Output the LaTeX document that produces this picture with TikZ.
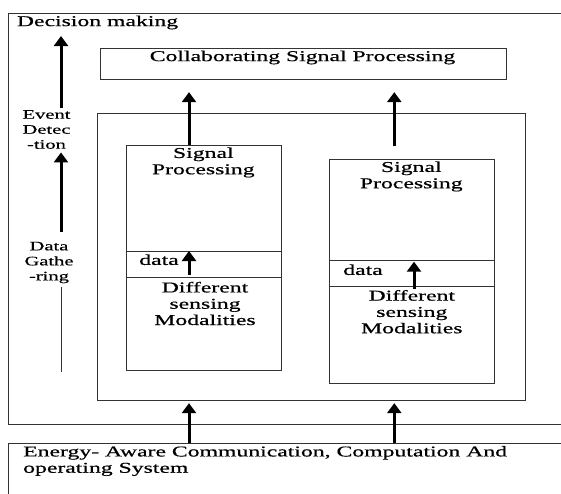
\documentclass[tikz,border=0pt]{standalone}
\usepackage{fontspec}
\setmainfont{Liberation Serif}[FakeStretch=1.58,FakeBold=0.6]
\usetikzlibrary{arrows.meta,positioning}

\begin{document}
\begin{tikzpicture}[x=1pt,y=-1pt,
  frame/.style={draw=black!80,line width=0.9pt},
  box/.style={frame,inner sep=0pt},
  lbl/.style={inner sep=0pt,align=center,font=\fontsize{15}{16.3}\selectfont},
  side/.style={inner sep=0pt,align=center,font=\fontsize{13}{15}\selectfont},
  up/.style={line width=3pt,-{Triangle[width=14pt,length=10pt]}}]
  \useasboundingbox (0,0) rectangle (561,494);
  \coordinate (colL) at (189,0);
  \coordinate (colR) at (394.3,0);
  \coordinate (colD) at (414,0);
  \coordinate (osTop) at (0,443);
  % outer frames
  \draw[frame] (561,13) -- (8,13) -- (8,424) -- (561,424);
  \draw[frame] (561,443) -- (8,443) -- (8,494);
  \node[lbl,anchor=west] (dec) at (16.7,22.5) {Decision making};
  \node[lbl,align=left,anchor=west] (os) at (23,461) {Energy- Aware Communication, Computation And\\operating System};
  % boxes
  \node[box,minimum width=406pt,minimum height=31pt] (collab) at (303,63.5) {};
  \node[lbl] (collabtxt) at (302.5,57.5) {Collaborating Signal Processing};
  \node[box,minimum width=427.3pt,minimum height=287pt] (mid) at (311.3,256.5) {};
  \node[box,minimum width=154.3pt,minimum height=225pt] (sp1) at (203.8,257.5) {};
  \node[box,minimum width=165.5pt,minimum height=224.3pt] (sp2) at (411.8,271.2) {};
  \coordinate (b1) at (0,251);
  \coordinate (b2) at (0,277.7);
  \coordinate (b3) at (0,260);
  \coordinate (b4) at (0,286.7);
  \draw[frame] (sp1.west |- b1) -- (sp1.east |- b1);
  \draw[frame] (sp1.west |- b2) -- (sp1.east |- b2);
  \draw[frame] (sp2.west |- b3) -- (sp2.east |- b3);
  \draw[frame] (sp2.west |- b4) -- (sp2.east |- b4);
  \node[lbl] (sp1txt) at (203.3,162.5) {Signal\\Processing};
  \node[lbl] (data1) at (159,259.8) {data};
  \node[lbl] (mod1) at (205,303.5) {Different\\sensing\\Modalities};
  \node[lbl] (sp2txt) at (411.3,176.5) {Signal\\Processing};
  \node[lbl] (data2) at (363,269.8) {data};
  \node[lbl] (mod2) at (411.8,311.7) {Different\\sensing\\Modalities};
  % left column
  \node[side] (evt) at (46.5,129.5) {Event\\Detec\\-tion};
  \node[side] (gat) at (49,262.5) {Data\\Gathe\\-ring};
  \coordinate (gatend) at (61,372);
  \draw[up,shorten <=1.5pt,shorten >=6.5pt] ([xshift=14.5pt]evt.north) -- ([xshift=14.5pt]evt.north |- dec.south);
  \draw[up,shorten <=9.5pt,shorten >=3.4pt] ([xshift=12pt]gat.north) -- ([xshift=14.5pt]evt.south);
  \draw[frame] ([xshift=12pt,yshift=-4pt]gat.south) -- (gatend);
  % arrows
  \draw[up,shorten >=12.7pt] (sp1.north -| colL) -- (collab.south -| colL);
  \draw[up,shorten <=12.3pt,shorten >=12.7pt] (sp2.north -| colR) -- (collab.south -| colR);
  \draw[up,shorten <=2.7pt] (b2 -| colL) -- (b1 -| colL);
  \draw[up,shorten <=-2.3pt,shorten >=1.7pt] (b4 -| colD) -- (b3 -| colD);
  \draw[up,shorten >=2.7pt] (osTop -| colL) -- (mid.south -| colL);
  \draw[up,shorten >=2.7pt] (osTop -| colR) -- (mid.south -| colR);
\end{tikzpicture}
\end{document}
